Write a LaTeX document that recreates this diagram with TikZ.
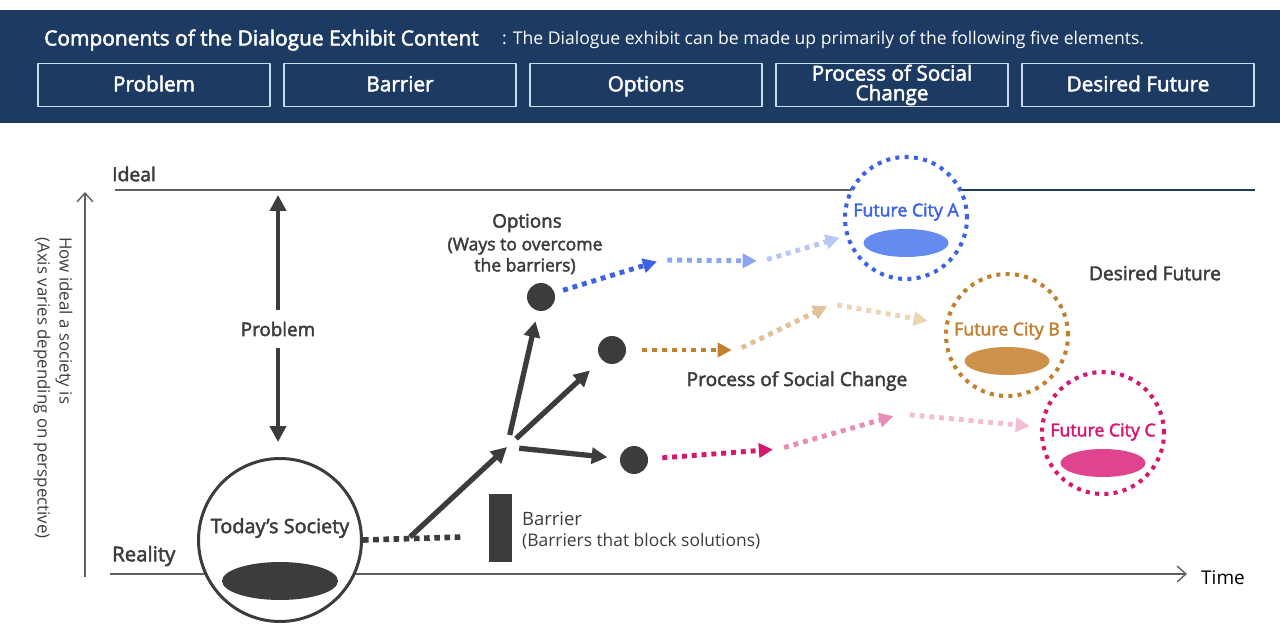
\documentclass[tikz,border=0pt]{standalone}
\usepackage{fontspec}
\setmainfont{Open Sans}
\newfontfamily\semib[FakeBold=2.4]{Open Sans}
\usetikzlibrary{arrows.meta,shapes.geometric}
\definecolor{navy}{RGB}{28,58,98}
\definecolor{boxline}{RGB}{200,220,240}
\definecolor{ink}{RGB}{60,60,60}
\definecolor{axisgray}{RGB}{95,95,95}
\definecolor{blueA}{RGB}{61,99,229}\definecolor{blueB}{RGB}{140,165,240}\definecolor{blueC}{RGB}{183,200,246}\definecolor{blueF}{RGB}{100,140,240}
\definecolor{brownA}{RGB}{192,128,48}\definecolor{brownB}{RGB}{226,192,152}\definecolor{brownC}{RGB}{236,213,183}\definecolor{brownF}{RGB}{205,145,74}
\definecolor{pinkA}{RGB}{214,23,110}\definecolor{pinkB}{RGB}{232,140,184}\definecolor{pinkC}{RGB}{244,188,213}\definecolor{pinkF}{RGB}{224,68,142}
\begin{document}
\begin{tikzpicture}[x=0.02cm,y=-0.02cm,line join=round,
  comp/.style={draw=boxline,line width=0.9pt,minimum width=4.64cm,minimum height=0.86cm,inner sep=0pt,text=white,align=center,font=\semib\fontsize{11.8}{11.2}\selectfont},
  oneline/.style={text height=0.72em,text depth=0pt},
  lbl/.style={text=ink,font=\semib\fontsize{10.7}{12}\selectfont},
  axisline/.style={axisgray,line width=0.8pt},
  bigarrow/.style={ink,line width=3pt,-{Triangle[length=9pt,width=9pt]}},
  dotpath/.style={line width=2.8pt,dash pattern=on 2.8pt off 2.8pt,-{Triangle[length=8pt,width=8pt]}},
  opt/.style={circle,fill=ink,minimum size=0.56cm,inner sep=0pt},
  city/.style={circle,fill=white,line width=2.3pt,dash pattern=on 2.3pt off 3pt,minimum size=2.44cm,inner sep=0pt},
  blob/.style={ellipse,minimum width=1.7cm,minimum height=0.56cm,inner sep=0pt},
  citylbl/.style={font=\semib\fontsize{10.1}{11}\selectfont}]
\useasboundingbox (0,0) rectangle (1280,634);
% header band
\fill[navy] (0,10) rectangle (1280,123);
\node[anchor=west,text=white,font=\semib\fontsize{11.9}{13}\selectfont] (title) at (38,40) {Components of the Dialogue Exhibit Content};
\node[anchor=west,text=white,font=\fontsize{10}{12}\selectfont] (subtitle) at (496,40) {: The Dialogue exhibit can be made up primarily of the following five elements.};
\node[comp,oneline] (cProblem) at (154,85) {Problem};
\node[comp,oneline] (cBarrier) at (400,85) {Barrier};
\node[comp,oneline] (cOptions) at (646,85) {Options};
\node[comp] (cProcess) at (892,85) {Process of Social\\Change};
\node[comp,oneline] (cFuture) at (1138,85) {Desired Future};
% axes
\coordinate (idealL) at (115,190); \coordinate (idealM) at (906,190); \coordinate (idealR) at (1255,190);
\coordinate (realL) at (110,574); \coordinate (realR) at (1187,574);
\coordinate (yBot) at (85,577); \coordinate (yTop) at (85,192);
\draw[axisline] (idealL) -- (idealM);
\draw[axisline,navy] (idealM) -- (idealR);
\draw[axisline,-{Straight Barb[length=5pt,width=9pt]}] (realL) -- (realR);
\draw[axisline,-{Straight Barb[length=5pt,width=9pt]}] (yBot) -- (yTop);
\node[anchor=west,text=black,font=\fontsize{10.8}{12}\selectfont] (time) at (1195,578) {Time};
\node[rotate=-90,align=left,text=ink,font=\fontsize{9.6}{12.5}\selectfont] (yaxis) at (53,388) {How ideal a society is\\(Axis varies depending on perspective)};
\node[lbl,anchor=west,font=\semib\fontsize{11}{13}\selectfont] (ideal) at (106,174) {Ideal};
\node[lbl,anchor=west,font=\semib\fontsize{11.6}{13}\selectfont] (reality) at (106,556) {Reality};
% problem
\node[lbl,inner ysep=0.22cm] (problem) at (278,329) {Problem};
\coordinate (pTop) at (278,195); \coordinate (pBot) at (278,442);
\draw[bigarrow,line width=2.7pt] (problem) -- (pTop);
\draw[bigarrow,line width=2.7pt] (problem) -- (pBot);
% today's society
\node[circle,draw=ink,fill=white,line width=1.7pt,minimum size=3.26cm] (soc) at (280,540) {};
\node[lbl,font=\semib\fontsize{11.3}{12}\selectfont] (socLbl) at (280,528) {Today’s Society};
\node[blob,fill=ink,minimum width=2.32cm,minimum height=0.76cm] (socBlob) at (280,581) {};
\coordinate (solEnd) at (463,537); \coordinate (kink) at (410,537); \coordinate (fork) at (507,447);
\draw[ink,line width=3.2pt,dash pattern=on 3.2pt off 2.6pt] (soc.east) -- (solEnd);
\draw[bigarrow] (kink) -- (fork);
% barrier
\fill[ink] (489,494) rectangle (512,562);
\node[anchor=west,text=ink,font=\fontsize{10.5}{12}\selectfont] (barrier) at (516,519) {Barrier};
\node[anchor=west,text=ink,font=\fontsize{9.9}{12}\selectfont] (barrierSub) at (516,541) {(Barriers that block solutions)};
% options
\node[opt] (optA) at (541,297) {};
\node[opt] (optB) at (612,350) {};
\node[opt] (optC) at (634,460) {};
\draw[bigarrow,shorten <=7pt,shorten >=6pt] (fork) -- (optA);
\draw[bigarrow,shorten <=7pt,shorten >=9pt] (fork) -- (optB);
\draw[bigarrow,shorten <=7pt,shorten >=7pt] (fork) -- (optC);
\node[lbl] (options) at (527,223) {Options};
\node[lbl,font=\semib\fontsize{10}{12}\selectfont,align=center] (optionsSub) at (525,256) {(Ways to overcome\\the barriers)};
% future cities
\node[city,draw=blueA] (cityA) at (906,218) {};
\node[citylbl,text=blueA] (cityAlbl) at (906,212) {Future City A};
\node[blob,fill=blueF] (blobA) at (906,243) {};
\node[city,draw=brownA] (cityB) at (1007,335) {};
\node[citylbl,text=brownA] (cityBlbl) at (1007,331) {Future City B};
\node[blob,fill=brownF] (blobB) at (1007,361) {};
\node[city,draw=pinkA] (cityC) at (1103,433) {};
\node[citylbl,text=pinkA] (cityClbl) at (1103,432) {Future City C};
\node[blob,fill=pinkF] (blobC) at (1103,463) {};
\node[lbl,font=\semib\fontsize{10.9}{12}\selectfont] (desired) at (1155,273) {Desired Future};
\node[lbl,font=\semib\fontsize{10.9}{12}\selectfont] (process) at (797,381) {Process of Social Change};
% paths of change
\coordinate (wA1) at (662,260); \coordinate (wA2) at (762,261);
\draw[dotpath,blueA,shorten <=5pt,shorten >=3pt] (optA) -- (wA1);
\draw[dotpath,blueB,shorten <=3pt,shorten >=3pt] (wA1) -- (wA2);
\draw[dotpath,blueC,shorten <=3pt,shorten >=3.5pt] (wA2) -- (cityA);
\coordinate (wB1) at (737,350); \coordinate (wB2) at (832,304);
\draw[dotpath,brownA,shorten <=9pt,shorten >=3pt] (optB) -- (wB1);
\draw[dotpath,brownB,shorten <=3pt,shorten >=3pt] (wB1) -- (wB2);
\draw[dotpath,brownC,shorten <=3pt,shorten >=10pt] (wB2) -- (cityB);
\coordinate (wC1) at (779,449); \coordinate (wC2) at (901,414);
\draw[dotpath,pinkA,shorten <=8pt,shorten >=3.5pt] (optC) -- (wC1);
\draw[dotpath,pinkB,shorten <=3pt,shorten >=4.5pt] (wC1) -- (wC2);
\draw[dotpath,pinkC,shorten <=5pt,shorten >=6pt] (wC2) -- (cityC);
\end{tikzpicture}
\end{document}
